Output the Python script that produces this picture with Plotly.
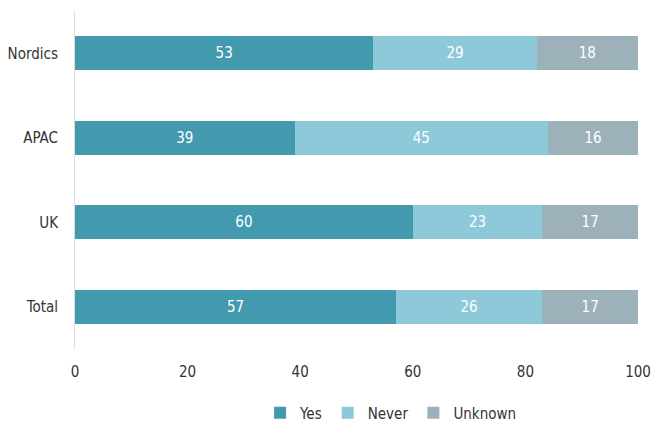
import plotly.graph_objects as go

categories = ["Nordics", "APAC", "UK", "Total"]
yes = [53, 39, 60, 57]
never = [29, 45, 23, 26]
unknown = [18, 16, 17, 17]
x_ticks = [0, 20, 40, 60, 80, 100]

FONT = "DejaVu Sans Condensed, DejaVu Sans, sans-serif"

fig = go.Figure()
for name, vals, color in [("Yes", yes, "#4399ad"), ("Never", never, "#8ec9d9"), ("Unknown", unknown, "#9cb1b9")]:
    fig.add_trace(go.Bar(
        y=categories, x=vals, name=name, orientation="h",
        marker=dict(color=color, line=dict(width=0)),
        text=[str(v) for v in vals], textposition="inside", insidetextanchor="middle",
        textfont=dict(color="white", size=15, family=FONT),
        width=0.4,
    ))

fig.update_layout(
    barmode="stack",
    width=651, height=425,
    margin=dict(l=75, r=13, t=11, b=76, autoexpand=False),
    plot_bgcolor="white", paper_bgcolor="white",
    font=dict(family=FONT, size=15, color="#333333"),
    showlegend=True,
    legend=dict(orientation="h", xref="container", yref="container",
                x=0.6, xanchor="center", y=0.028, yanchor="middle",
                font=dict(size=15, color="#333333"), traceorder="normal", itemwidth=30),
    xaxis=dict(range=[0, 100], tickvals=x_ticks, showgrid=False, zeroline=False,
               showline=False, ticks="", ticklabelstandoff=12, automargin=False),
    yaxis=dict(categoryorder="array", categoryarray=categories, autorange="reversed",
               showgrid=False, showline=True, linecolor="#dddddd", linewidth=1,
               ticks="", ticklabelstandoff=13, automargin=False),
)

fig.write_html("out.html")
